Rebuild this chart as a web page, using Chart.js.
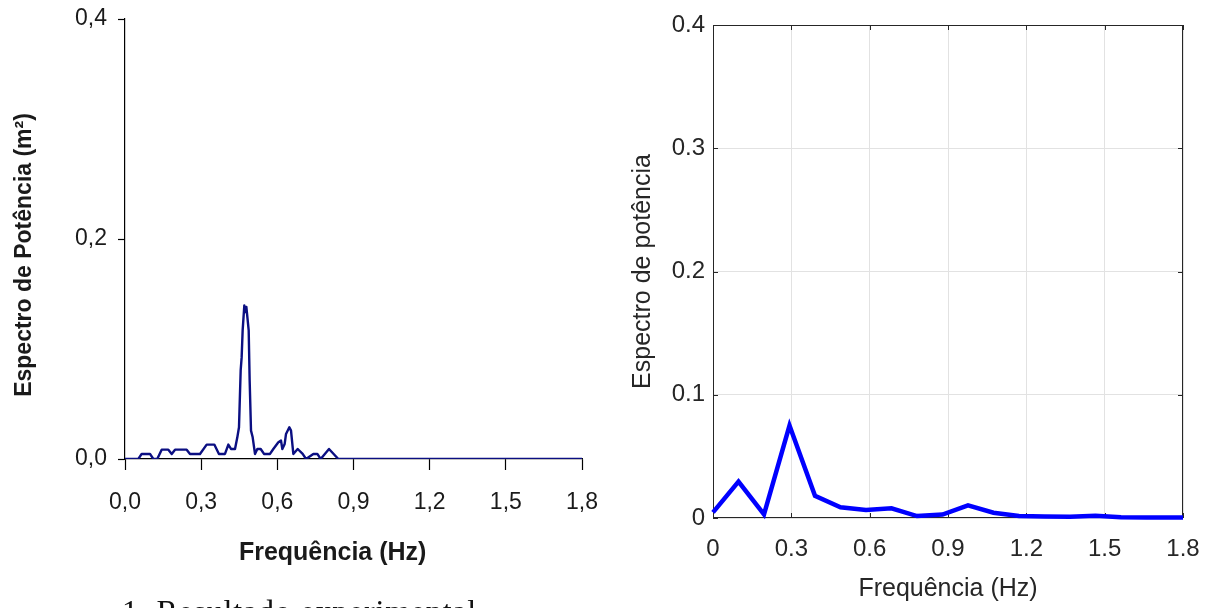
<!DOCTYPE html>
<html>
<head>
<meta charset="utf-8">
<script src="https://cdn.jsdelivr.net/npm/chart.js@4.4.1/dist/chart.umd.min.js"></script>
<style>
  html, body { margin: 0; padding: 0; background: #fff; overflow: hidden; width: 1216px; height: 608px; }
  #wrap { position: relative; width: 1216px; height: 608px; overflow: hidden; }
  canvas { position: absolute; top: 0; }
  #cap { position: absolute; left: 122px; top: 595px; font-family: "Liberation Serif", "DejaVu Serif", serif;
         font-size: 32px; letter-spacing: 0.8px; color: #111; white-space: nowrap; line-height: 1; }
</style>
</head>
<body>
<div id="wrap">
  <canvas id="expChart" width="608" height="608" style="left:0"></canvas>
  <canvas id="simChart" width="608" height="608" style="left:608px"></canvas>
  <div id="cap">1. Resultado experimental</div>
</div>
<script>
// Experimental power spectrum (m²) vs frequency (Hz)
const expFreq = [0, 0.0525, 0.0656, 0.0985, 0.1116, 0.127, 0.1444, 0.1707, 0.184, 0.197,
  0.2429, 0.256, 0.2954, 0.3216, 0.3518, 0.37, 0.3938, 0.407, 0.4175, 0.4333,
  0.4424, 0.449, 0.4556, 0.4595, 0.4634, 0.47, 0.474, 0.478, 0.4872, 0.491,
  0.4963, 0.5029, 0.512, 0.5212, 0.5344, 0.5475, 0.5711, 0.5842, 0.604, 0.6145,
  0.6197, 0.6289, 0.6342, 0.6473, 0.6539, 0.663, 0.6801, 0.6998, 0.713, 0.7418,
  0.7576, 0.7707, 0.8035, 0.8403, 1.8];
const expPower = [0, 0, 0.0046, 0.0046, 0, 0, 0.0085, 0.0085, 0.0046, 0.0085,
  0.0085, 0.0046, 0.0046, 0.0131, 0.0131, 0.0046, 0.0046, 0.0131, 0.0091, 0.0091,
  0.0197, 0.0289, 0.0805, 0.0926, 0.1169, 0.1397, 0.1336, 0.1382, 0.1169, 0.0714,
  0.0258, 0.0197, 0.0046, 0.0091, 0.0091, 0.0046, 0.0046, 0.0091, 0.0152, 0.0167,
  0.0091, 0.0137, 0.0228, 0.0289, 0.0258, 0.0046, 0.0091, 0.0046, 0, 0.0046,
  0.0046, 0, 0.0091, 0, 0];

// Simulated power spectrum vs frequency (Hz)
const simFreq = [0, 0.0977, 0.1953, 0.293, 0.3906, 0.4883, 0.5859, 0.6836, 0.7813, 0.8789,
  0.9766, 1.0742, 1.1719, 1.2695, 1.3672, 1.4648, 1.5625, 1.6602, 1.7578, 1.8555];
const simPower = [0.0046, 0.0295, 0.003, 0.075, 0.018, 0.0087, 0.0065, 0.0079, 0.0016, 0.0028,
  0.0103, 0.0043, 0.0017, 0.0012, 0.0010, 0.0019, 0.0006, 0.0004, 0.0004, 0.0004];

// Axis ticks
const freqTicks = [0, 0.3, 0.6, 0.9, 1.2, 1.5, 1.8];
const expPowerTicks = [0, 0.2, 0.4];
const simPowerTicks = [0, 0.1, 0.2, 0.3, 0.4];

const sans = '"Liberation Sans", Arial, Helvetica, sans-serif';
const comma = v => Number(v).toFixed(1).replace('.', ',');
const dot = v => (v === 0 ? '0' : Number(v).toFixed(1));
const points = (xs, ys) => xs.map((x, i) => ({ x: x, y: ys[i] }));
const fixedTicks = list => scale => { scale.ticks = list.map(v => ({ value: v })); };
// fixed axis box size; plot area margins come from layout.padding only
const fitX = h => s => { s.height = h; s.paddingLeft = 0; s.paddingRight = 0; };
const fitY = w => s => { s.width = w; s.paddingTop = 0; s.paddingBottom = 0; };

// Left: experimental result
new Chart(document.getElementById('expChart'), {
  type: 'line',
  data: { datasets: [{
    data: points(expFreq, expPower),
    borderColor: '#0b0f82', borderWidth: 2.4, pointRadius: 0, tension: 0, fill: false,
    borderJoinStyle: 'round'
  }]},
  options: {
    responsive: false, animation: false, devicePixelRatio: 1,
    layout: { padding: { top: 19, right: 26, bottom: 0, left: 0 } },
    plugins: { legend: { display: false }, tooltip: { enabled: false } },
    scales: {
      x: {
        type: 'linear', min: 0, max: 1.8,
        afterBuildTicks: fixedTicks(freqTicks),
        afterFit: fitX(149),
        grid: { drawOnChartArea: false, drawTicks: true, tickLength: 11, tickColor: '#000', tickWidth: 1.2 },
        border: { display: true, color: '#000', width: 1.2 },
        ticks: { callback: comma, color: '#1a1a1a', padding: 19, maxRotation: 0,
                 font: { family: sans, size: 23 } },
        title: { display: true, text: 'Frequência (Hz)      ', color: '#1a1a1a',
                 font: { family: sans, size: 25, weight: 'bold' }, padding: { top: 0, bottom: 40 } }
      },
      y: {
        type: 'linear', min: 0, max: 0.4,
        afterBuildTicks: fixedTicks(expPowerTicks),
        afterFit: fitY(125),
        grid: { drawOnChartArea: false, drawTicks: true, tickLength: 7, tickColor: '#000', tickWidth: 1.2 },
        border: { display: true, color: '#000', width: 1.2 },
        ticks: { callback: comma, color: '#1a1a1a', padding: 11,
                 font: { family: sans, size: 23 } },
        title: { display: true, text: 'Espectro de Potência (m²)     ', color: '#1a1a1a',
                 font: { family: sans, size: 23, weight: 'bold' }, padding: { top: 11, bottom: 0 } }
      }
    }
  }
});

// Box and inward tick marks around the plot area
const boxFrame = {
  id: 'boxFrame',
  beforeDatasetsDraw(chart) {
    const { ctx, chartArea: a, scales } = chart;
    const len = 5;
    ctx.save();
    ctx.strokeStyle = '#262626';
    ctx.lineWidth = 1;
    ctx.strokeRect(a.left + 0.5, a.top + 0.5, a.right - a.left - 1, a.bottom - a.top - 1);
    ctx.beginPath();
    scales.x.ticks.forEach(t => {
      const px = Math.round(scales.x.getPixelForValue(t.value)) + 0.5;
      ctx.moveTo(px, a.bottom); ctx.lineTo(px, a.bottom - len);
      ctx.moveTo(px, a.top); ctx.lineTo(px, a.top + len);
    });
    scales.y.ticks.forEach(t => {
      const py = Math.round(scales.y.getPixelForValue(t.value)) + 0.5;
      ctx.moveTo(a.left, py); ctx.lineTo(a.left + len, py);
      ctx.moveTo(a.right, py); ctx.lineTo(a.right - len, py);
    });
    ctx.stroke();
    ctx.restore();
  }
};

// Right: simulated spectrum
new Chart(document.getElementById('simChart'), {
  type: 'line',
  data: { datasets: [{
    data: points(simFreq, simPower),
    borderColor: '#0000ff', borderWidth: 4.5, pointRadius: 0, tension: 0, fill: false,
    clip: { left: 3, right: 0, top: 6, bottom: 6 }
  }]},
  options: {
    responsive: false, animation: false, devicePixelRatio: 1,
    layout: { padding: { top: 25, right: 33, bottom: 0, left: 0 } },
    plugins: { legend: { display: false }, tooltip: { enabled: false } },
    scales: {
      x: {
        type: 'linear', min: 0, max: 1.8,
        afterBuildTicks: fixedTicks(freqTicks),
        afterFit: fitX(90),
        grid: { drawOnChartArea: true, drawTicks: false, color: '#e2e2e2', lineWidth: 1 },
        border: { display: false },
        ticks: { callback: dot, color: '#262626', padding: 17,
                 maxRotation: 0, font: { family: sans, size: 24 } },
        title: { display: true, text: 'Frequência (Hz)', color: '#262626',
                 font: { family: sans, size: 25 }, padding: { top: 0, bottom: 4 } }
      },
      y: {
        type: 'linear', min: 0, max: 0.4,
        afterBuildTicks: fixedTicks(simPowerTicks),
        afterFit: fitY(105),
        grid: { drawOnChartArea: true, drawTicks: false, color: '#e2e2e2', lineWidth: 1 },
        border: { display: false },
        ticks: { callback: dot, color: '#262626', padding: 8,
                 font: { family: sans, size: 24 } },
        title: { display: true, text: 'Espectro de potência', color: '#262626',
                 font: { family: sans, size: 25 }, padding: { top: 20, bottom: 0 } }
      }
    }
  },
  plugins: [boxFrame]
});
</script>
</body>
</html>
